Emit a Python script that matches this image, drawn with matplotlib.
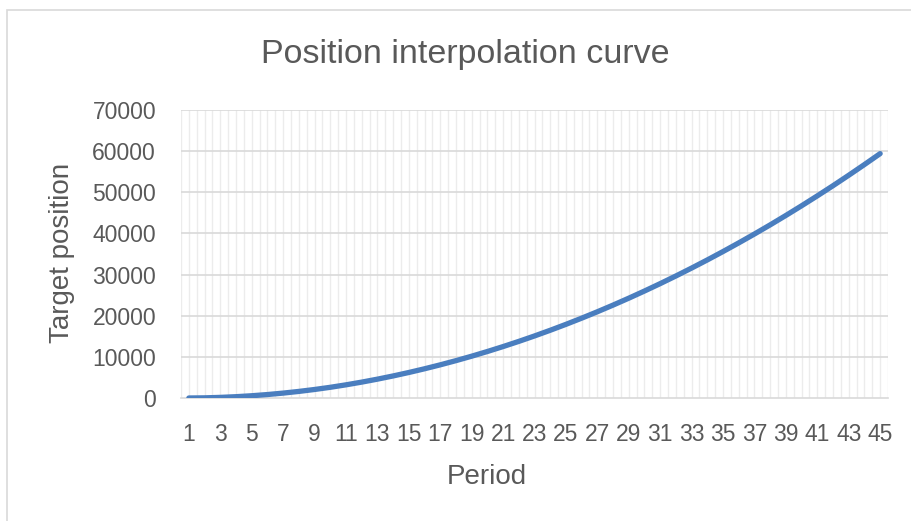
import matplotlib
matplotlib.use("Agg")
import matplotlib.pyplot as plt
import numpy as np

# target position per interpolation period
periods = list(range(1, 46))
positions = [0, 40, 150, 320, 550, 840, 1190, 1600, 2070, 2600,
             3200, 3860, 4580, 5360, 6200, 7100, 8060, 9080, 10160, 11300,
             12500, 13760, 15080, 16460, 17900, 19400, 20960, 22580, 24260, 26000,
             27800, 29660, 31580, 33560, 35600, 37700, 39860, 42080, 44370, 46720,
             49130, 51600, 54140, 56740, 59400]
tick_labels = [str(p) if p % 2 == 1 else "" for p in periods]
y_ticks = [0, 10000, 20000, 30000, 40000, 50000, 60000, 70000]

plt.rcParams['font.family'] = ['Liberation Sans', 'DejaVu Sans']
txt = '#595959'

fig = plt.figure(figsize=(9.11, 5.21), dpi=100)
# light chart frame
fig.patches.append(plt.Rectangle((7 / 911, -0.1), 1.1, (521 - 10) / 521 + 0.1,
                                 transform=fig.transFigure, fill=False,
                                 edgecolor='#d9d9d9', linewidth=1.2))

ax = fig.add_axes([181 / 911, 123 / 521, 707 / 911, 288 / 521])
ax.set_xlim(0.5, 45.5)
ax.set_ylim(0, 70000)

# vertical grid at every half category, horizontal at major ticks
for xv in np.arange(0.5, 45.6, 0.5):
    ax.axvline(xv, color='#ececec', linewidth=1.0, zorder=0)
for yv in y_ticks[1:]:
    ax.axhline(yv, color='#d9d9d9', linewidth=1.2, zorder=1)

ax.plot(periods, positions, color='#4a7ebf', linewidth=3.8,
        solid_capstyle='round', zorder=3)

for s in ['top', 'right', 'left']:
    ax.spines[s].set_visible(False)
ax.spines['bottom'].set_color('#d9d9d9')
ax.spines['bottom'].set_linewidth(1.2)

ax.set_xticks(periods)
ax.set_xticklabels(tick_labels)
ax.set_yticks(y_ticks)
ax.set_yticklabels([str(v) for v in y_ticks])
ax.tick_params(axis='both', length=0, labelsize=16.5, colors=txt)
ax.tick_params(axis='x', pad=18)
ax.tick_params(axis='y', pad=18)

fig.text(465 / 911, 1 - 55 / 521, 'Position interpolation curve',
         ha='center', va='center', fontsize=24.5, color=txt)
fig.text(487 / 911, 1 - 477 / 521, 'Period',
         ha='center', va='center', fontsize=20, color=txt)
fig.text(62 / 911, 1 - 253 / 521, 'Target position', rotation=90,
         ha='center', va='center', fontsize=20, color=txt)

fig.savefig('out.png', dpi=100)
